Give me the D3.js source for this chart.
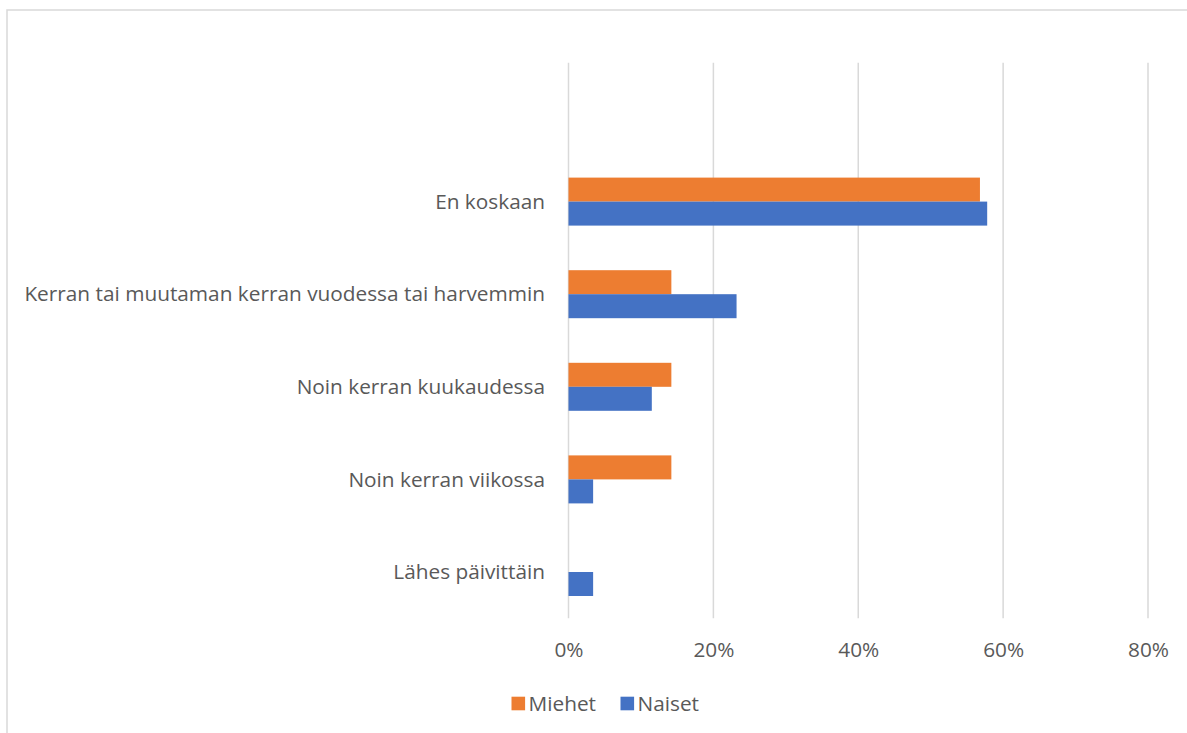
<!DOCTYPE html>
<html>
<head>
<meta charset="utf-8">
<script src="https://cdn.jsdelivr.net/npm/d3@7"></script>
<style>
  html, body { margin: 0; padding: 0; background: #fff; }
  svg { display: block; }
  text { font-family: "Open Sans", "Noto Sans", sans-serif; fill: #595959; }
</style>
</head>
<body>
<svg id="chart" width="1187" height="733"></svg>
<script>
// Response categories, top to bottom (first row is a blank category)
const categories = [
  "",
  "En koskaan",
  "Kerran tai muutaman kerran vuodessa tai harvemmin",
  "Noin kerran kuukaudessa",
  "Noin kerran viikossa",
  "Lähes päivittäin"
];
const seriesNames = ["Miehet", "Naiset"];
const miehet = [null, 0.568, 0.142, 0.142, 0.142, 0];
const naiset = [null, 0.578, 0.232, 0.115, 0.034, 0.034];
const tickValues = [0, 0.2, 0.4, 0.6, 0.8];
const colors = ["#ED7D31", "#4472C4"];

const fontSize = "20.8px";
const svg = d3.select("#chart");

// chart frame
svg.append("path")
  .attr("d", "M7,740 L7,10 L1195,10")
  .attr("fill", "none")
  .attr("stroke", "#d9d9d9")
  .attr("stroke-width", 1.5);

const x = d3.scaleLinear().domain([0, 0.8]).range([568.5, 1148]);
const y = d3.scaleBand().domain(categories.map((d, i) => i)).range([62.7, 618.3]);
const sub = d3.scaleBand().domain(seriesNames).range([0, 48]);

// vertical gridlines
svg.append("g")
  .selectAll("line")
  .data(tickValues)
  .join("line")
  .attr("x1", d => x(d)).attr("x2", d => x(d))
  .attr("y1", y.range()[0]).attr("y2", y.range()[1])
  .attr("stroke", "#d9d9d9")
  .attr("stroke-width", 1.5);

// x axis tick labels
const xAxis = d3.axisBottom(x)
  .tickValues(tickValues)
  .tickFormat(d3.format(".0%"))
  .tickSize(0)
  .tickPadding(0);
const gx = svg.append("g")
  .attr("transform", `translate(0,${y.range()[1]})`)
  .call(xAxis);
gx.select(".domain").remove();
gx.selectAll("text")
  .attr("y", 31)
  .attr("dy", "0.35em")
  .style("font-size", fontSize)
  .style("font-family", "\"Open Sans\", sans-serif")
  .attr("fill", "#595959");

// category labels
const yAxis = d3.axisLeft(y)
  .tickFormat(i => categories[i])
  .tickSize(0)
  .tickPadding(0);
const gy = svg.append("g")
  .attr("transform", "translate(545,0)")
  .call(yAxis);
gy.select(".domain").remove();
gy.selectAll("text")
  .attr("x", 0)
  .attr("dy", "0.35em")
  .style("font-size", fontSize)
  .style("font-family", "\"Open Sans\", sans-serif")
  .attr("fill", "#595959");

// bars
const rows = [];
categories.forEach((c, i) => {
  [miehet, naiset].forEach((arr, s) => {
    if (arr[i] != null && arr[i] > 0) rows.push({ i, s, v: arr[i] });
  });
});
svg.append("g")
  .selectAll("rect")
  .data(rows)
  .join("rect")
  .attr("x", x(0))
  .attr("y", d => y(d.i) + y.bandwidth() / 2 - 24 + sub(seriesNames[d.s]))
  .attr("width", d => x(d.v) - x(0))
  .attr("height", sub.bandwidth())
  .attr("fill", d => colors[d.s]);

// legend
const legend = svg.append("g").attr("transform", "translate(511.5,703.5)");
const legendX = [0, 109];
seriesNames.forEach((name, s) => {
  const g = legend.append("g").attr("transform", `translate(${legendX[s]},0)`);
  g.append("rect")
    .attr("x", 0).attr("y", -6.8)
    .attr("width", 13.6).attr("height", 13.6)
    .attr("fill", colors[s]);
  g.append("text")
    .attr("x", 17)
    .attr("dy", "0.35em")
    .style("font-size", fontSize)
    .text(name);
});
</script>
</body>
</html>
